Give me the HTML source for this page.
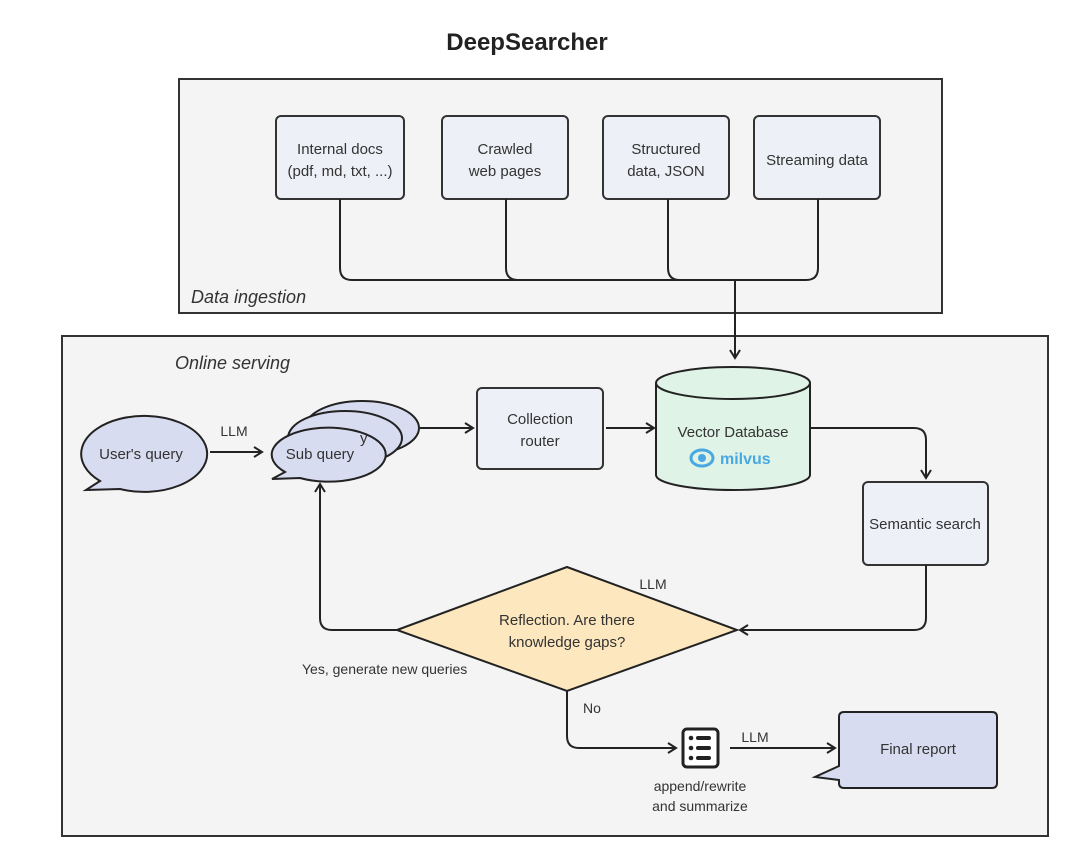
<!DOCTYPE html>
<html><head><meta charset="utf-8"><style>
html,body{margin:0;padding:0;background:#fff;}
svg{display:block;font-family:"Liberation Sans",sans-serif;}
</style></head><body>
<svg width="1080" height="861" viewBox="0 0 1080 861" xmlns="http://www.w3.org/2000/svg">
<defs>
<marker id="ar" markerWidth="12" markerHeight="12" refX="10" refY="6" orient="auto" markerUnits="userSpaceOnUse">
<path d="M2,1 L10,6 L2,11" fill="none" stroke="#222" stroke-width="2"/>
</marker>
</defs>
<rect width="1080" height="861" fill="#fff"/>
<text x="527" y="50" text-anchor="middle" font-size="24" font-weight="bold" fill="#222">DeepSearcher</text>

<!-- Data ingestion -->
<rect x="179" y="79" width="763" height="234" fill="#f4f4f4" stroke="#333" stroke-width="2"/>
<text x="191" y="303" font-size="18" font-style="italic" fill="#333">Data ingestion</text>
<g fill="#eef0f7" stroke="#333" stroke-width="2">
<rect x="276" y="116" width="128" height="83" rx="5"/>
<rect x="442" y="116" width="126" height="83" rx="5"/>
<rect x="603" y="116" width="126" height="83" rx="5"/>
<rect x="754" y="116" width="126" height="83" rx="5"/>
</g>
<g font-size="15" fill="#333" text-anchor="middle">
<text x="340" y="154">Internal docs</text><text x="340" y="176">(pdf, md, txt, ...)</text>
<text x="505" y="154">Crawled</text><text x="505" y="176">web pages</text>
<text x="666" y="154">Structured</text><text x="666" y="176">data, JSON</text>
<text x="817" y="165">Streaming data</text>
</g>
<g fill="none" stroke="#222" stroke-width="2">
<path d="M340,199 V268 Q340,280 352,280 H806 Q818,280 818,268 V199"/>
<path d="M506,199 V268 Q506,280 518,280"/>
<path d="M668,199 V268 Q668,280 680,280"/>
</g>

<!-- Online serving -->
<rect x="62" y="336" width="986" height="500" fill="#f4f4f4" stroke="#333" stroke-width="2"/>
<path d="M735,280 V358" stroke="#222" stroke-width="2" fill="none" marker-end="url(#ar)"/>
<text x="175" y="369" font-size="18" font-style="italic" fill="#333">Online serving</text>

<!-- User's query -->
<g fill="#d8dcf0" stroke="#222" stroke-width="2">
<path d="M100,481 A63,38 0 1 1 120,489 L86,490 Z"/>
</g>
<text x="141" y="459" font-size="15" fill="#333" text-anchor="middle">User's query</text>
<text x="234" y="436" font-size="14" fill="#333" text-anchor="middle">LLM</text>
<path d="M210,452 H262" stroke="#222" stroke-width="2" fill="none" marker-end="url(#ar)"/>

<!-- Sub queries -->
<g fill="#d8dcf0" stroke="#222" stroke-width="2">
<ellipse cx="362" cy="428" rx="57" ry="27"/>
<ellipse cx="345" cy="438" rx="57" ry="27"/>
<path d="M285,472 A57,27 0 1 1 300,478 L272,479 Z"/>
</g>
<text x="360" y="443" font-size="15" fill="#333">y</text>
<text x="320" y="459" font-size="15" fill="#333" text-anchor="middle">Sub query</text>
<path d="M420,428 H473" stroke="#222" stroke-width="2" fill="none" marker-end="url(#ar)"/>

<!-- Collection router -->
<rect x="477" y="388" width="126" height="81" rx="5" fill="#eef0f7" stroke="#333" stroke-width="2"/>
<text x="540" y="424" font-size="15" fill="#333" text-anchor="middle">Collection</text>
<text x="540" y="446" font-size="15" fill="#333" text-anchor="middle">router</text>
<path d="M606,428 H654" stroke="#222" stroke-width="2" fill="none" marker-end="url(#ar)"/>

<!-- Cylinder -->
<path d="M656,383 V475 A77,15 0 0 0 810,475 V383" fill="#dff3e6" stroke="#222" stroke-width="2"/>
<ellipse cx="733" cy="383" rx="77" ry="16" fill="#dff3e6" stroke="#222" stroke-width="2"/>
<text x="733" y="437" font-size="15" fill="#333" text-anchor="middle">Vector Database</text>
<ellipse cx="702" cy="458" rx="11" ry="8" fill="none" stroke="#4aa8e0" stroke-width="3"/>
<circle cx="702" cy="458" r="4" fill="#4aa8e0"/>
<text x="720" y="464" font-size="16" font-weight="bold" fill="#4aa8e0">milvus</text>
<path d="M810,428 H914 Q926,428 926,440 V478" stroke="#222" stroke-width="2" fill="none" marker-end="url(#ar)"/>

<!-- Semantic search -->
<rect x="863" y="482" width="125" height="83" rx="5" fill="#eef0f7" stroke="#333" stroke-width="2"/>
<text x="925" y="529" font-size="15" fill="#333" text-anchor="middle">Semantic search</text>
<path d="M926,565 V618 Q926,630 914,630 H740" stroke="#222" stroke-width="2" fill="none" marker-end="url(#ar)"/>

<!-- Diamond -->
<polygon points="397,630 567,567 737,630 567,691" fill="#fce7bf" stroke="#222" stroke-width="2"/>
<text x="567" y="625" font-size="15" fill="#333" text-anchor="middle">Reflection. Are there</text>
<text x="567" y="647" font-size="15" fill="#333" text-anchor="middle">knowledge gaps?</text>
<text x="653" y="589" font-size="14" fill="#333" text-anchor="middle">LLM</text>
<path d="M397,630 H332 Q320,630 320,618 V484" stroke="#222" stroke-width="2" fill="none" marker-end="url(#ar)"/>
<text x="302" y="674" font-size="14" fill="#333">Yes, generate new queries</text>
<text x="583" y="713" font-size="14" fill="#333">No</text>
<path d="M567,691 V736 Q567,748 579,748 H676" stroke="#222" stroke-width="2" fill="none" marker-end="url(#ar)"/>

<!-- doc icon -->
<rect x="683" y="729" width="35" height="38" rx="4" fill="#fff" stroke="#222" stroke-width="3"/>
<g fill="#222"><circle cx="691" cy="738" r="2.3"/><circle cx="691" cy="748" r="2.3"/><circle cx="691" cy="758" r="2.3"/>
<rect x="696" y="736" width="15" height="4" rx="2"/><rect x="696" y="746" width="15" height="4" rx="2"/><rect x="696" y="756" width="15" height="4" rx="2"/></g>
<text x="700" y="791" font-size="14" fill="#333" text-anchor="middle">append/rewrite</text>
<text x="700" y="811" font-size="14" fill="#333" text-anchor="middle">and summarize</text>
<text x="755" y="742" font-size="14" fill="#333" text-anchor="middle">LLM</text>
<path d="M730,748 H835" stroke="#222" stroke-width="2" fill="none" marker-end="url(#ar)"/>

<!-- Final report -->
<path d="M844,712 H992 Q997,712 997,717 V783 Q997,788 992,788 H844 Q839,788 839,783 V780 L815,777 L839,766 V717 Q839,712 844,712 Z" fill="#d8dcf0" stroke="#222" stroke-width="2"/>
<text x="918" y="754" font-size="15" fill="#333" text-anchor="middle">Final report</text>
</svg>
</body></html>
